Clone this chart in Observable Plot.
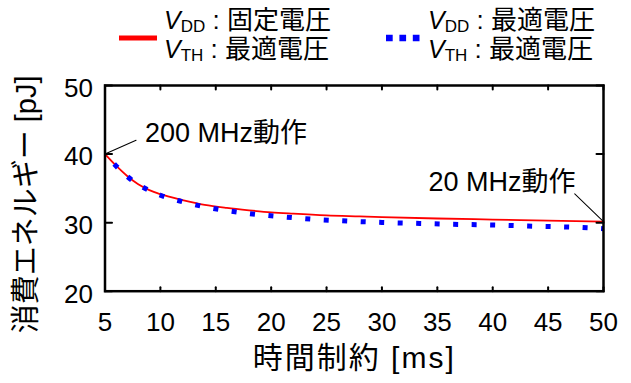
<!DOCTYPE html>
<html><head><meta charset="utf-8">
<script src="https://cdn.jsdelivr.net/npm/d3@7"></script>
<script src="https://cdn.jsdelivr.net/npm/@observablehq/plot@0.6"></script>
<style>
body{margin:0;background:#fff;}
#wrap{width:631px;height:383px;position:relative;overflow:hidden;font-family:"Liberation Sans","Noto Sans CJK JP",sans-serif;color:#000;}
#legend{position:relative;height:70px;width:631px;}
.lt{position:absolute;font-size:26px;line-height:24px;height:24px;white-space:nowrap;}
.lt i{font-style:italic;font-size:25px;}
.lt sub{font-size:17px;vertical-align:-3px;line-height:0;}
.sw{position:absolute;}
.xtitle text{letter-spacing:2px;}
</style></head>
<body>
<div id="wrap">
  <div id="legend"></div>
  <div id="chart"></div>
</div>
<script>
// ---- data ----
const xTicks = [5, 10, 15, 20, 25, 30, 35, 40, 45, 50];
const yTicks = [20, 30, 40, 50];
const xTitle = "時間制約 [ms]";
const yTitle = "消費エネルギー [pJ]";

// red: VDD fixed, VTH optimal
const redX = [5, 6, 7, 8, 9, 10, 12, 14, 16, 18, 20, 22, 25, 28, 30, 35, 40, 45, 50];
const redY = [40, 38.3, 36.8, 35.6, 34.75, 34.15, 33.3, 32.6, 32.15, 31.8, 31.5, 31.3, 31.05, 30.9, 30.8, 30.6, 30.45, 30.3, 30.15];
// blue: VDD optimal, VTH optimal
const blueX = [5, 6, 7, 8, 9, 10, 12, 14, 16, 18, 20, 22, 24, 26, 28, 30, 33, 36, 40, 44, 47, 50];
const blueY = [40, 38.26, 36.75, 35.55, 34.7, 34.0, 33.05, 32.3, 31.75, 31.32, 31.0, 30.72, 30.47, 30.3, 30.15, 30.03, 29.9, 29.77, 29.66, 29.46, 29.35, 29.12];

const annLabels = ["200 MHz動作", "20 MHz動作"];

const legendItems = [
  {color: "#ff0000", l1: ["V", "DD", "固定電圧"], l2: ["V", "TH", "最適電圧"], dashed: false},
  {color: "#0000ff", l1: ["V", "DD", "最適電圧"], l2: ["V", "TH", "最適電圧"], dashed: true}
];

// ---- build ----
const red = redX.map((x, i) => ({x, y: redY[i]}));
const blue = blueX.map((x, i) => ({x, y: blueY[i]}));
const ann = [
  {x: red[0].x, y: red[0].y, label: annLabels[0]},
  {x: red[red.length - 1].x, y: red[red.length - 1].y, label: annLabels[1]}
];

// legend
const leg = document.getElementById("legend");
const legPos = [{sx: 119, tx: 164}, {sx: 386, tx: 428}];
legendItems.forEach((it, i) => {
  const p = legPos[i];
  const sw = document.createElementNS("http://www.w3.org/2000/svg", "svg");
  sw.setAttribute("class", "sw");
  sw.setAttribute("width", 40); sw.setAttribute("height", 10);
  sw.style.left = p.sx + "px"; sw.style.top = "33px";
  const ln = document.createElementNS("http://www.w3.org/2000/svg", "line");
  ln.setAttribute("x1", 0); ln.setAttribute("x2", it.dashed ? 34 : 38);
  ln.setAttribute("y1", 5); ln.setAttribute("y2", 5);
  ln.setAttribute("stroke", it.color);
  ln.setAttribute("stroke-width", it.dashed ? 6.5 : 5);
  if (it.dashed) ln.setAttribute("stroke-dasharray", "6.7,6.7");
  sw.appendChild(ln);
  leg.appendChild(sw);
  const line = a => `<i>${a[0]}</i><sub>${a[1]}</sub> : ${a[2]}`;
  [it.l1, it.l2].forEach((l, j) => {
    const t = document.createElement("div");
    t.className = "lt";
    t.style.left = p.tx + "px"; t.style.top = (8 + j * 29) + "px";
    t.innerHTML = line(l);
    leg.appendChild(t);
  });
});

const font = '"Liberation Sans","Noto Sans CJK JP",sans-serif';
const tickShape = {draw(ctx, l) { ctx.moveTo(0, 0); ctx.lineTo(0, -l); }};
const x0 = xTicks[0], x1 = xTicks[xTicks.length - 1];
const y0 = yTicks[0], y1 = yTicks[yTicks.length - 1];

const chart = Plot.plot({
  width: 631, height: 313,
  marginLeft: 104.5, marginRight: 28, marginTop: 15, marginBottom: 92.3,
  x: {domain: [x0, x1]},
  y: {domain: [y0, y1]},
  style: {fontFamily: font, color: "#000", background: "#fff", overflow: "visible"},
  marks: [
    Plot.axisX(xTicks, {tickSize: 0, tickPadding: 21, fontSize: 26, label: null}),
    Plot.axisY(yTicks, {tickSize: 0, tickPadding: 12, fontSize: 26, label: null, dy: 3}),
    Plot.text([xTitle], {frameAnchor: "bottom", dy: 77, text: d => d, fontSize: 30, textAnchor: "middle", className: "xtitle"}),
    Plot.text([yTitle], {frameAnchor: "left", dx: -78, dy: 16, rotate: -90, text: d => d, fontSize: 29, textAnchor: "middle"}),
    Plot.line(red, {x: "x", y: "y", stroke: "#ff0000", strokeWidth: 1.8, curve: "monotone-x"}),
    Plot.line(blue, {x: "x", y: "y", stroke: "#0000ff", strokeWidth: 5, strokeDasharray: "5,13.5", strokeDashoffset: 5, strokeLinecap: "butt", curve: "monotone-x"}),
    Plot.frame({stroke: "#000", strokeWidth: 2.5}),
    Plot.vector(xTicks, {x: d => d, y: y0, length: 4, anchor: "start", shape: tickShape, strokeWidth: 2}),
    Plot.vector(xTicks, {x: d => d, y: y1, length: 4, rotate: 180, anchor: "start", shape: tickShape, strokeWidth: 2}),
    Plot.vector(yTicks, {x: x0, y: d => d, length: 7, rotate: 90, anchor: "start", shape: tickShape, strokeWidth: 2}),
    Plot.vector(yTicks, {x: x1, y: d => d, length: 7, rotate: -90, anchor: "start", shape: tickShape, strokeWidth: 2}),
    Plot.vector(ann.slice(0, 1), {x: "x", y: "y", length: 34, rotate: 66, anchor: "start", shape: tickShape, strokeWidth: 1}),
    Plot.vector(ann.slice(1), {x: "x", y: "y", length: 40, rotate: -46, anchor: "start", shape: tickShape, strokeWidth: 1}),
    Plot.text(ann.slice(0, 1), {x: "x", y: "y", text: "label", dx: 40, dy: -21, textAnchor: "start", fontSize: 27}),
    Plot.text(ann.slice(1), {x: "x", y: "y", text: "label", dx: -28, dy: -39, textAnchor: "end", fontSize: 27})
  ]
});
document.getElementById("chart").appendChild(chart);
</script>
</body></html>
